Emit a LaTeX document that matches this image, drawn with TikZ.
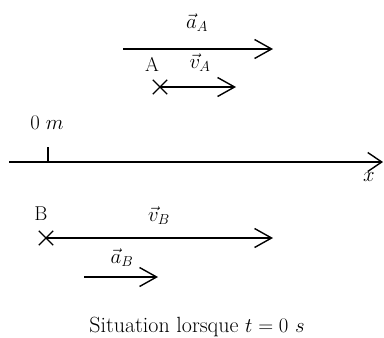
\documentclass[tikz,border=0pt]{standalone}
\usetikzlibrary{arrows.meta,shapes.misc}
\begin{document}
\begin{tikzpicture}[x=1pt,y=-1pt,
  vec/.style={line width=1.4pt,-{Straight Barb[length=17pt,width=19pt,line width=1.4pt]}},
  crossmark/.style={draw,shape=cross out,line width=1.4pt,minimum size=13pt,inner sep=0pt},
  lbl/.style={font=\fontsize{20}{24}\selectfont,inner sep=0pt},
  caption/.style={font=\fontsize{22}{26}\selectfont,inner sep=0pt}]
\useasboundingbox (0,0) rectangle (384,338);
% A
\coordinate (aAs) at (123,49);
\coordinate (aAe) at (273,49);
\draw[vec] (aAs) -- (aAe);
\node[lbl] (laA) at (197,23) {$\vec{a}_A$};
\node[lbl] (lA) at (152,64) {A};
\node[lbl] (lvA) at (200,63) {$\vec{v}_A$};
\node[crossmark] (A) at (160,87) {};
\coordinate (vAe) at (236,87);
\draw[vec] (A.center) -- (vAe);
% axis
\coordinate (ax0) at (9,162);
\coordinate (ax1) at (383,162);
\draw[line width=1.4pt,-{Straight Barb[length=14pt,width=19pt,line width=1.4pt]}] (ax0) -- (ax1);
\coordinate (t0) at (48,162);
\coordinate (t1) at (48,147);
\draw[line width=1.4pt] (t0) -- (t1);
\node[lbl] (l0) at (47,123) {$0\ m$};
\node[lbl] (lx) at (369,177) {$x$};
% B
\node[lbl] (lB) at (41,214) {B};
\node[lbl] (lvB) at (159,216) {$\vec{v}_B$};
\node[crossmark] (B) at (46,238) {};
\coordinate (vBe) at (273,238);
\draw[vec] (B.center) -- (vBe);
\node[lbl] (laB) at (122,258) {$\vec{a}_B$};
\coordinate (aBs) at (84,277);
\coordinate (aBe) at (158,277);
\draw[vec] (aBs) -- (aBe);
% caption
\node[caption] (cap) at (197,327) {Situation lorsque $t=0\ s$};
\end{tikzpicture}
\end{document}
